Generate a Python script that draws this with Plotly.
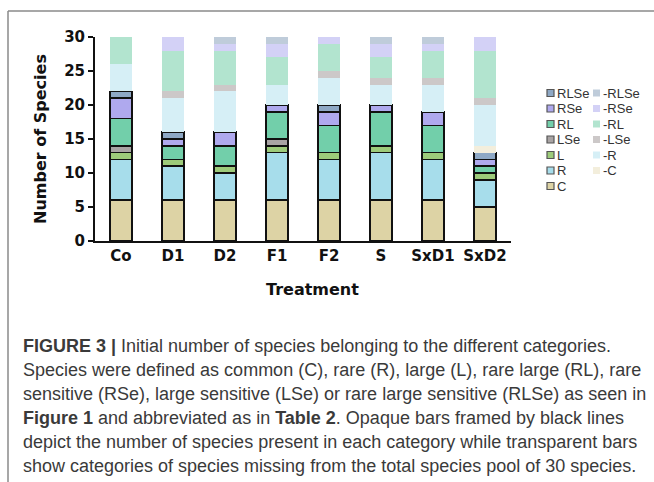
import plotly.graph_objects as go

treatments = ["Co", "D1", "D2", "F1", "F2", "S", "SxD1", "SxD2"]

# present species per category
C    = [6, 6, 6, 6, 6, 6, 6, 5]
R    = [6, 5, 4, 7, 6, 7, 6, 4]
L    = [1, 1, 1, 1, 1, 1, 1, 1]
LSe  = [1, 0, 0, 1, 0, 0, 0, 0]
RL   = [4, 2, 3, 4, 4, 5, 4, 1]
RSe  = [3, 1, 2, 1, 2, 1, 2, 1]
RLSe = [1, 1, 0, 0, 1, 0, 0, 1]

# missing species per category
mC    = [0, 0, 0, 0, 0, 0, 0, 1]
mR    = [4, 5, 6, 3, 4, 3, 4, 6]
mLSe  = [0, 1, 1, 0, 1, 1, 1, 1]
mRL   = [4, 6, 5, 4, 4, 3, 4, 7]
mRSe  = [0, 2, 1, 2, 1, 2, 1, 2]
mRLSe = [0, 0, 1, 1, 0, 1, 1, 0]

present_names = ["C", "R", "L", "LSe", "RL", "RSe", "RLSe"]
present_vals = [C, R, L, LSe, RL, RSe, RLSe]
present_cols = ["#DDD3A5", "#A7DDEB", "#9DCB7A", "#A9A4A4", "#72CFAA", "#AFA9EE", "#8EA8C5"]

missing_names = ["-C", "-R", "-LSe", "-RL", "-RSe", "-RLSe"]
missing_vals = [mC, mR, mLSe, mRL, mRSe, mRLSe]
missing_cols = ["#F3EEDC", "#D6EFF6", "#CCC8C8", "#B2E4CF", "#D3D1F6", "#BFCCDA"]

y_ticks = [0, 5, 10, 15, 20, 25, 30]

caption_lines = [
    "<b>FIGURE 3 |</b> Initial number of species belonging to the different categories.",
    "Species were defined as common (C), rare (R), large (L), rare large (RL), rare",
    "sensitive (RSe), large sensitive (LSe) or rare large sensitive (RLSe) as seen in",
    "<b>Figure 1</b> and abbreviated as in <b>Table 2</b>. Opaque bars framed by black lines",
    "depict the number of species present in each category while transparent bars",
    "show categories of species missing from the total species pool of 30 species.",
]

W, H = 654, 482
ML, MR, MT, MB = 95, 143, 37, 241
PW, PH = W - ML - MR, H - MT - MB


def px2x(px):
    return (px - ML) / PW


def px2y(py):
    return (H - MB - py) / PH


fig = go.Figure()
for name, vals, col in zip(present_names, present_vals, present_cols):
    fig.add_trace(go.Bar(x=treatments, y=vals, name=name, width=0.42,
                         marker=dict(color=col, line=dict(color="#111111", width=1.5)),
                         showlegend=False))
for name, vals, col in zip(missing_names, missing_vals, missing_cols):
    fig.add_trace(go.Bar(x=treatments, y=vals, name=name, width=0.42,
                         marker=dict(color=col, line=dict(width=0)),
                         showlegend=False))

shapes = []
annotations = []

# legend (two columns)
left_col = list(zip(present_names, present_cols))[::-1]
right_col = list(zip(missing_names, missing_cols))[::-1]
row0, rowstep = 93, 15.5
for i, (name, col) in enumerate(left_col):
    yc = row0 + i * rowstep
    shapes.append(dict(type="rect", xref="paper", yref="paper",
                       x0=px2x(547), x1=px2x(554), y0=px2y(yc + 3.5), y1=px2y(yc - 3.5),
                       fillcolor=col, line=dict(color="#555555", width=1.2)))
    annotations.append(dict(x=px2x(555), y=px2y(yc), xref="paper", yref="paper",
                            text=name, showarrow=False, xanchor="left", yanchor="middle",
                            font=dict(family="Liberation Sans", size=13, color="#333333")))
for i, (name, col) in enumerate(right_col):
    yc = row0 + i * rowstep
    shapes.append(dict(type="rect", xref="paper", yref="paper",
                       x0=px2x(593), x1=px2x(600), y0=px2y(yc + 3.5), y1=px2y(yc - 3.5),
                       fillcolor=col, line=dict(width=0)))
    annotations.append(dict(x=px2x(601), y=px2y(yc), xref="paper", yref="paper",
                            text=name, showarrow=False, xanchor="left", yanchor="middle",
                            font=dict(family="Liberation Sans", size=13, color="#333333")))

# frame lines
shapes.append(dict(type="line", xref="paper", yref="paper",
                   x0=px2x(8), x1=px2x(8), y0=px2y(11), y1=px2y(490),
                   line=dict(color="#8a8a8a", width=1.5)))
shapes.append(dict(type="line", xref="paper", yref="paper",
                   x0=px2x(8), x1=px2x(660), y0=px2y(11), y1=px2y(11),
                   line=dict(color="#8a8a8a", width=1.5)))

# axis titles
annotations.append(dict(x=px2x(40), y=px2y(139), xref="paper", yref="paper",
                        text="<b>Number of Species</b>", textangle=-90, showarrow=False,
                        xanchor="center", yanchor="middle",
                        font=dict(family="DejaVu Sans", size=16, color="#111111")))
annotations.append(dict(x=px2x(312), y=px2y(289), xref="paper", yref="paper",
                        text="<b>Treatment</b>", showarrow=False,
                        xanchor="center", yanchor="middle",
                        font=dict(family="DejaVu Sans", size=16, color="#111111")))

# caption
cap0, capstep = 346, 24.0
for i, line in enumerate(caption_lines):
    annotations.append(dict(x=px2x(21), y=px2y(cap0 + i * capstep), xref="paper", yref="paper",
                            text=line, showarrow=False, xanchor="left", yanchor="middle",
                            font=dict(family="Liberation Sans", size=18, color="#3a3a3a")))

fig.update_layout(
    width=W, height=H, barmode="stack",
    margin=dict(l=ML, r=MR, t=MT, b=MB, pad=0),
    paper_bgcolor="white", plot_bgcolor="white",
    shapes=shapes, annotations=annotations,
    xaxis=dict(range=[-0.5, 7.5], showline=True, linecolor="#111111", linewidth=2,
               ticks="", showgrid=False,
               tickfont=dict(family="DejaVu Sans", size=15, color="#111111", weight="bold")),
    yaxis=dict(range=[0, 30], tickvals=y_ticks, showline=True, linecolor="#111111", linewidth=2,
               ticks="outside", ticklen=5, tickwidth=1.5, tickcolor="#111111",
               showgrid=False, zeroline=False,
               tickfont=dict(family="DejaVu Sans", size=15, color="#111111", weight="bold")),
)

fig.write_html("out.html", config={"displayModeBar": False},
               post_script="document.body.style.margin='0px';")
